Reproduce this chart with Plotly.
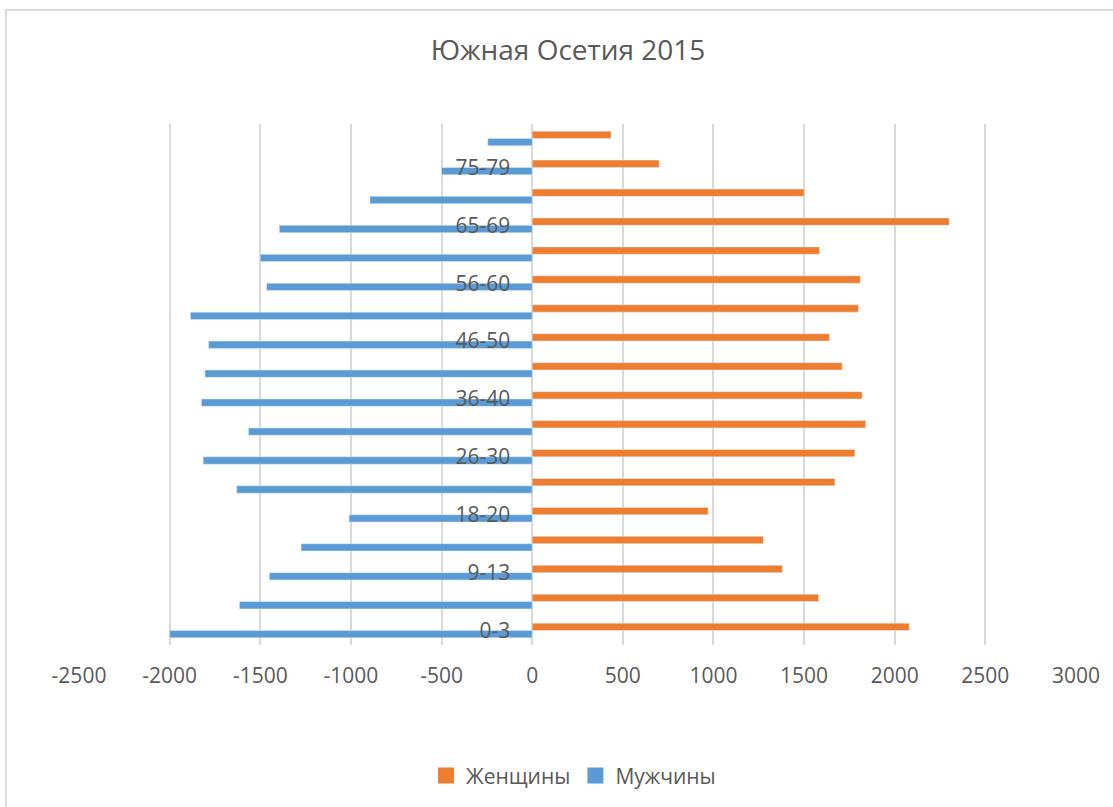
import plotly.graph_objects as go

# Age groups, bottom to top
age_groups = ["0-3", "4-8", "9-13", "14-17", "18-20", "21-25", "26-30", "31-35",
              "36-40", "41-45", "46-50", "51-55", "56-60", "61-64", "65-69",
              "70-74", "75-79", "80+"]
shown_labels = ["0-3", "9-13", "18-20", "26-30", "36-40", "46-50", "56-60", "65-69", "75-79"]

women = [2080, 1580, 1380, 1275, 970, 1670, 1780, 1840, 1820, 1710,
         1640, 1800, 1810, 1585, 2300, 1500, 700, 435]
men = [-2000, -1615, -1450, -1275, -1010, -1630, -1815, -1565, -1825, -1805,
       -1785, -1885, -1465, -1500, -1395, -895, -500, -245]

x_ticks = [-2500, -2000, -1500, -1000, -500, 0, 500, 1000, 1500, 2000, 2500, 3000]

TEXT = "#595959"
FONT = "Open Sans"
BLUE = "#5B9BD5"
ORANGE = "#ED7D31"

fig = go.Figure()
fig.add_trace(go.Bar(y=age_groups, x=men, orientation="h", name="Мужчины",
                     marker=dict(color=BLUE), showlegend=False))
fig.add_trace(go.Bar(y=age_groups, x=women, orientation="h", name="Женщины",
                     marker=dict(color=ORANGE), showlegend=False))
# legend entries with square swatches
fig.add_trace(go.Scatter(x=[None], y=[None], mode="markers", name="Женщины",
                         marker=dict(symbol="square", size=16, color=ORANGE)))
fig.add_trace(go.Scatter(x=[None], y=[None], mode="markers", name="Мужчины",
                         marker=dict(symbol="square", size=16, color=BLUE)))

x_min, x_max = -2500, 3000
zero_pos = (0 - x_min) / (x_max - x_min)

fig.update_layout(
    width=1113, height=807,
    margin=dict(l=79, r=37, t=124, b=162, autoexpand=False),
    paper_bgcolor="white", plot_bgcolor="white",
    barmode="group", bargap=0.494, bargroupgap=0,
    font=dict(family=FONT, color=TEXT, size=21),
    title=dict(text="Южная Осетия 2015", x=568 / 1113, xanchor="center",
               xref="container",
               y=1 - 50 / 807, yanchor="middle", yref="container",
               font=dict(size=28, color=TEXT, family=FONT)),
    xaxis=dict(range=[x_min, x_max], tickvals=x_ticks,
               ticktext=[str(v) for v in x_ticks],
               showgrid=True, gridcolor="#D9D9D9", gridwidth=1.5,
               zeroline=False, showline=False, ticks="",
               ticklabelstandoff=16,
               tickfont=dict(size=21, color=TEXT), fixedrange=True),
    yaxis=dict(type="category", categoryorder="array", categoryarray=age_groups,
               tickvals=shown_labels, ticktext=shown_labels,
               anchor="free", position=zero_pos, side="left",
               showgrid=False, zeroline=False, showline=False, ticks="",
               ticklabelstandoff=22,
               tickfont=dict(size=21, color=TEXT), fixedrange=True),
    legend=dict(orientation="h", x=0.496, xanchor="center", y=-0.251, yanchor="middle",
                font=dict(size=21, color=TEXT), itemwidth=30,
                tracegroupgap=0),
    showlegend=True,
)

# outer chart frame (partially off-page as in the reference)
fig.add_shape(type="rect", xref="paper", yref="paper",
              x0=(6 - 79) / 997, x1=(1200 - 79) / 997,
              y0=-(900 - 645) / 521, y1=1 + (124 - 10) / 521,
              line=dict(color="#D9D9D9", width=2), layer="below")

fig.write_html("out.html", config={"displayModeBar": False},
               post_script="document.body.style.margin='0';")
